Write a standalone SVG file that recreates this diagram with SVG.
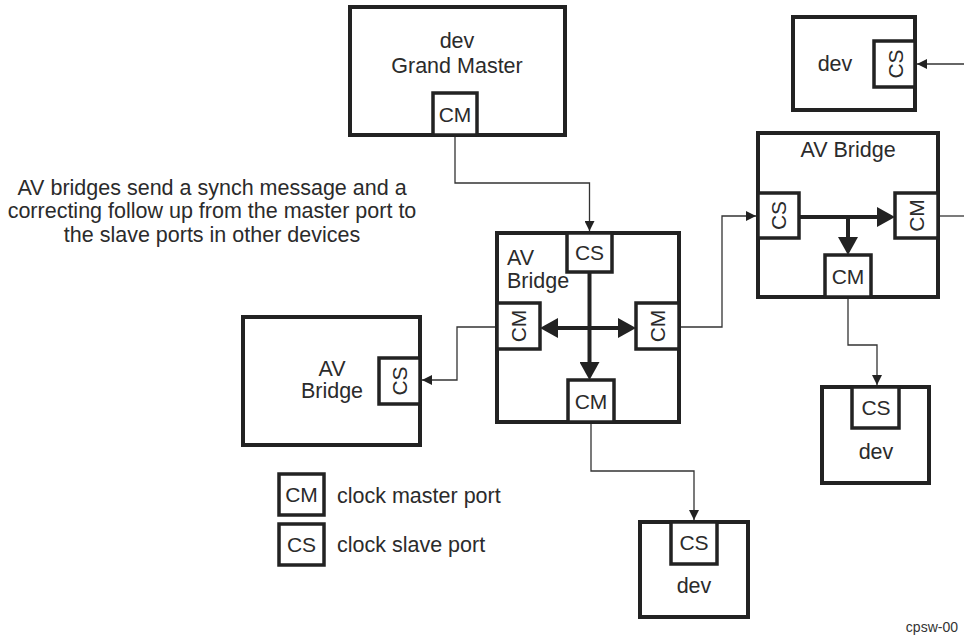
<svg xmlns="http://www.w3.org/2000/svg" width="964" height="636" viewBox="0 0 964 636">
<style>
.box{fill:#fff;stroke:#222;stroke-width:4}
.port{fill:#fff;stroke:#222;stroke-width:3.5}
.t{font-family:"Liberation Sans",Arial,sans-serif;font-size:21.5px;fill:#2b2b2b}
.p{font-size:21px}
.c{text-anchor:middle}
.thin{fill:none;stroke:#333;stroke-width:1.3}
.thick{fill:none;stroke:#222;stroke-width:4}
</style>
<defs>
<marker id="ah" viewBox="0 0 10 10" refX="10" refY="5" markerWidth="10" markerHeight="10" markerUnits="userSpaceOnUse" orient="auto"><path d="M0,0L10,5L0,10z" fill="#222"/></marker>
<marker id="ahb" viewBox="0 0 18 20" refX="12" refY="10" markerWidth="18" markerHeight="20" markerUnits="userSpaceOnUse" orient="auto-start-reverse"><path d="M0,0L18,10L0,20z" fill="#222"/></marker>
</defs>

<g id="connectors">
<path class="thin" d="M455,135V183H589.5V231" marker-end="url(#ah)"/>
<path class="thin" d="M497,327H457V380H422" marker-end="url(#ah)"/>
<path class="thin" d="M679,327H722V216H756" marker-end="url(#ah)"/>
<path class="thin" d="M591,422V471H694V520" marker-end="url(#ah)"/>
<path class="thin" d="M848,297V345H877V385" marker-end="url(#ah)"/>
<path class="thin" d="M938,216H964"/>
<path class="thin" d="M964,64H917" marker-end="url(#ah)"/>
</g>

<g id="grand-master">
<rect class="box" x="350" y="7" width="215" height="128"/>
<text class="t c" x="457" y="48">dev</text>
<text class="t c" x="457" y="73">Grand Master</text>
<rect class="port" x="433" y="93" width="44" height="42"/>
<text class="t p c" x="455" y="122">CM</text>
</g>

<g id="note">
<text class="t c" x="212" y="195">AV bridges send a synch message and a</text>
<text class="t c" x="212" y="218">correcting follow up from the master port to</text>
<text class="t c" x="212" y="242">the slave ports in other devices</text>
</g>

<g id="dev-top">
<rect class="box" x="793" y="17" width="122" height="93"/>
<text class="t c" x="835" y="71">dev</text>
<rect class="port" x="874" y="41" width="41" height="46"/>
<text class="t p c" transform="translate(895.5 64) rotate(-90)" x="0" y="7.5">CS</text>
</g>

<g id="bridge-right">
<rect class="box" x="758" y="133" width="180" height="164"/>
<text class="t c" x="848" y="157">AV Bridge</text>
<rect class="port" x="758" y="193" width="41" height="45"/>
<text class="t p c" transform="translate(778.5 215.5) rotate(-90)" x="0" y="7.5">CS</text>
<rect class="port" x="895" y="193" width="43" height="45"/>
<text class="t p c" transform="translate(916.5 215.5) rotate(-90)" x="0" y="7.5">CM</text>
<rect class="port" x="825" y="255" width="46" height="42"/>
<text class="t p c" x="848" y="284">CM</text>
<path class="thick" d="M799,217H889" marker-end="url(#ahb)"/>
<path class="thick" d="M848,217V249" marker-end="url(#ahb)"/>
</g>

<g id="bridge-center">
<rect class="box" x="497" y="233" width="182" height="189"/>
<text class="t" x="507" y="265">AV</text>
<text class="t" x="507" y="288">Bridge</text>
<rect class="port" x="567" y="233" width="45" height="39"/>
<text class="t p c" x="589.5" y="260">CS</text>
<rect class="port" x="497" y="303" width="43" height="46"/>
<text class="t p c" transform="translate(518.5 326) rotate(-90)" x="0" y="7.5">CM</text>
<rect class="port" x="636" y="303" width="43" height="46"/>
<text class="t p c" transform="translate(657.5 326) rotate(-90)" x="0" y="7.5">CM</text>
<rect class="port" x="568" y="380" width="46" height="42"/>
<text class="t p c" x="591" y="409">CM</text>
<path class="thick" d="M589.5,272V374" marker-end="url(#ahb)"/>
<path class="thick" d="M546,328H630" marker-start="url(#ahb)" marker-end="url(#ahb)"/>
</g>

<g id="bridge-left">
<rect class="box" x="243" y="317" width="177" height="128"/>
<text class="t c" x="332" y="376">AV</text>
<text class="t c" x="332" y="398">Bridge</text>
<rect class="port" x="379" y="358" width="41" height="46"/>
<text class="t p c" transform="translate(399.5 381) rotate(-90)" x="0" y="7.5">CS</text>
</g>

<g id="dev-right">
<rect class="box" x="822" y="387" width="107" height="96"/>
<rect class="port" x="852" y="387" width="47" height="41"/>
<text class="t p c" x="876" y="415">CS</text>
<text class="t c" x="876" y="459">dev</text>
</g>

<g id="dev-bottom">
<rect class="box" x="640" y="522" width="108" height="95"/>
<rect class="port" x="671" y="522" width="46" height="42"/>
<text class="t p c" x="694" y="550">CS</text>
<text class="t c" x="694" y="593">dev</text>
</g>

<g id="legend">
<rect class="port" x="279" y="474" width="45" height="41"/>
<text class="t p c" x="301.5" y="502">CM</text>
<text class="t" x="337" y="503">clock master port</text>
<rect class="port" x="279" y="524" width="45" height="41"/>
<text class="t p c" x="301.5" y="552">CS</text>
<text class="t" x="337" y="552">clock slave port</text>
</g>

<text x="958" y="632" style="font-family:'Liberation Sans',Arial,sans-serif;font-size:14px;fill:#333;text-anchor:end">cpsw-00</text>
</svg>
